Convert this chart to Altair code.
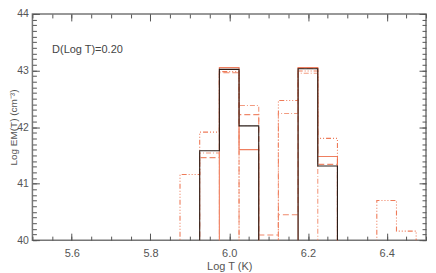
import altair as alt
import pandas as pd

# ---- data ----
BIN_CENTERS = [5.85, 5.90, 5.95, 6.00, 6.05, 6.10, 6.15, 6.20, 6.25, 6.30, 6.35, 6.40, 6.45, 6.50]
BIN_WIDTH = 0.05
FLOOR = 39.0  # empty bins (below the visible axis range)

SERIES = ["s1", "s2", "s3", "s4", "s5"]
EM_S1 = [None, None, 41.58, 43.02, 42.02, None, None, 43.03, 41.31, None, None, None, None, None]
EM_S2 = [None, None, None, 43.05, 41.60, None, None, 43.05, 41.48, None, None, None, None, None]
EM_S3 = [None, None, 41.46, 42.96, 42.22, 40.09, 40.45, 43.04, 41.34, None, None, None, None, None]
EM_S4 = [None, 41.16, 41.91, 42.98, None, None, 42.47, 42.99, 41.80, None, None, 40.70, 40.16, None]
EM_S5 = [None, None, 41.54, None, 42.38, None, 42.24, 42.95, None, None, None, None, None, None]
ALL_EM = [EM_S1, EM_S2, EM_S3, EM_S4, EM_S5]

COLORS = ["#2a1d18", "#ee7a5a", "#ee7e5e", "#ec6a44", "#f08a6a"]
DASHES = [[1, 0], [1, 0], [6, 3], [5, 2, 1, 2, 1, 2, 1, 2], [5, 2, 1, 2]]
WIDTHS = [1.1, 1.1, 1.2, 1.1, 1.1]
OPAC = [1.0, 0.85, 0.9, 0.95, 0.8]

X_MAJOR = [5.6, 5.8, 6.0, 6.2, 6.4]
X_MINOR = [round(5.5 + 0.05 * i, 2) for i in range(21)]
Y_MAJOR = [40, 41, 42, 43, 44]
Y_MINOR = [round(40 + 0.1 * i, 1) for i in range(41)]

rows = []
for name, vals in zip(SERIES, ALL_EM):
    for i, (c, v) in enumerate(zip(BIN_CENTERS, vals)):
        val = FLOOR if v is None else v
        rows.append({"series": name, "x": c - BIN_WIDTH / 2, "em": val, "order": 2 * i})
        rows.append({"series": name, "x": c + BIN_WIDTH / 2, "em": val, "order": 2 * i + 1})
df = pd.DataFrame(rows)

W, H = 395, 227
FONT = "Liberation Sans"
AX = "#555555"

x_scale = alt.Scale(domain=[5.5, 6.5], nice=False, zero=False)
y_scale = alt.Scale(domain=[40, 44], nice=False, zero=False)

base = alt.Chart(df)

enc_common = dict(
    color=alt.Color("series:N", scale=alt.Scale(domain=SERIES, range=COLORS), legend=None),
    strokeDash=alt.StrokeDash("series:N", scale=alt.Scale(domain=SERIES, range=DASHES), legend=None),
    strokeWidth=alt.StrokeWidth("series:N", scale=alt.Scale(domain=SERIES, range=WIDTHS), legend=None),
    opacity=alt.Opacity("series:N", scale=alt.Scale(domain=SERIES, range=OPAC), legend=None),
    order="order:Q",
)

orange = base.transform_filter(alt.datum.series != "s1").mark_line(clip=True).encode(
    x=alt.X("x:Q", scale=x_scale,
            axis=alt.Axis(values=X_MAJOR, format=".1f", tickSize=0, domain=False, grid=False,
                          title="Log T (K)", labelPadding=7, titlePadding=2,
                          labelFont=FONT, titleFont=FONT, labelFontSize=11, titleFontSize=11,
                          titleFontWeight="normal", labelColor=AX, titleColor=AX)),
    y=alt.Y("em:Q", scale=y_scale,
            axis=alt.Axis(values=Y_MAJOR, format="d", tickSize=0, domain=False, grid=False,
                          title="Log EM(T) (cm⁻³)", labelPadding=4,
                          labelFont=FONT, titleFont=FONT, labelFontSize=10.5, titleFontSize=10,
                          titleFontWeight="normal", labelColor=AX, titleColor=AX,
                          titleAngle=270, titleBaseline="top", titleX=-24)),
    **enc_common,
)

black = base.transform_filter(alt.datum.series == "s1").mark_line(clip=True).encode(
    x=alt.X("x:Q", scale=x_scale, axis=None),
    y=alt.Y("em:Q", scale=y_scale, axis=None),
    **enc_common,
)


def tick_layer(xo, xoff, xv, yo, yoff, yv, size):
    return base.mark_point(opacity=0, clip=True).encode(
        x=alt.X("x:Q", scale=x_scale,
                axis=alt.Axis(orient=xo, offset=xoff, values=xv, labels=False, domain=False,
                              grid=False, title=None, tickSize=size, tickColor=AX, tickWidth=1)),
        y=alt.Y("em:Q", scale=y_scale,
                axis=alt.Axis(orient=yo, offset=yoff, values=yv, labels=False, domain=False,
                              grid=False, title=None, tickSize=size, tickColor=AX, tickWidth=1)),
    )


# inward ticks: bottom & left edges
t1 = tick_layer("top", -H, X_MAJOR, "right", -W, Y_MAJOR, 7)
t2 = tick_layer("top", -H, X_MINOR, "right", -W, Y_MINOR, 4)
# inward ticks: top & right edges
t3 = tick_layer("bottom", -H, X_MAJOR, "left", -W, Y_MAJOR, 7)
t4 = tick_layer("bottom", -H, X_MINOR, "left", -W, Y_MINOR, 4)

label = alt.Chart(pd.DataFrame({"x": [5.55], "em": [43.37], "t": ["D(Log T)=0.20"]})).mark_text(
    align="left", baseline="middle", font=FONT, fontSize=11, color="#444444"
).encode(x=alt.X("x:Q", scale=x_scale, axis=None), y=alt.Y("em:Q", scale=y_scale, axis=None), text="t:N")

chart = alt.layer(orange, black, t1, t2, t3, t4, label).resolve_axis(
    x="independent", y="independent"
).properties(
    width=W, height=H,
    autosize=alt.AutoSizeParams(type="none"),
    padding={"left": 24.5, "top": 5.5, "right": 2, "bottom": 31},
).configure_view(stroke="#777777", strokeWidth=1.5)

chart.save("out.html", embed_options={"renderer": "svg", "actions": False})
